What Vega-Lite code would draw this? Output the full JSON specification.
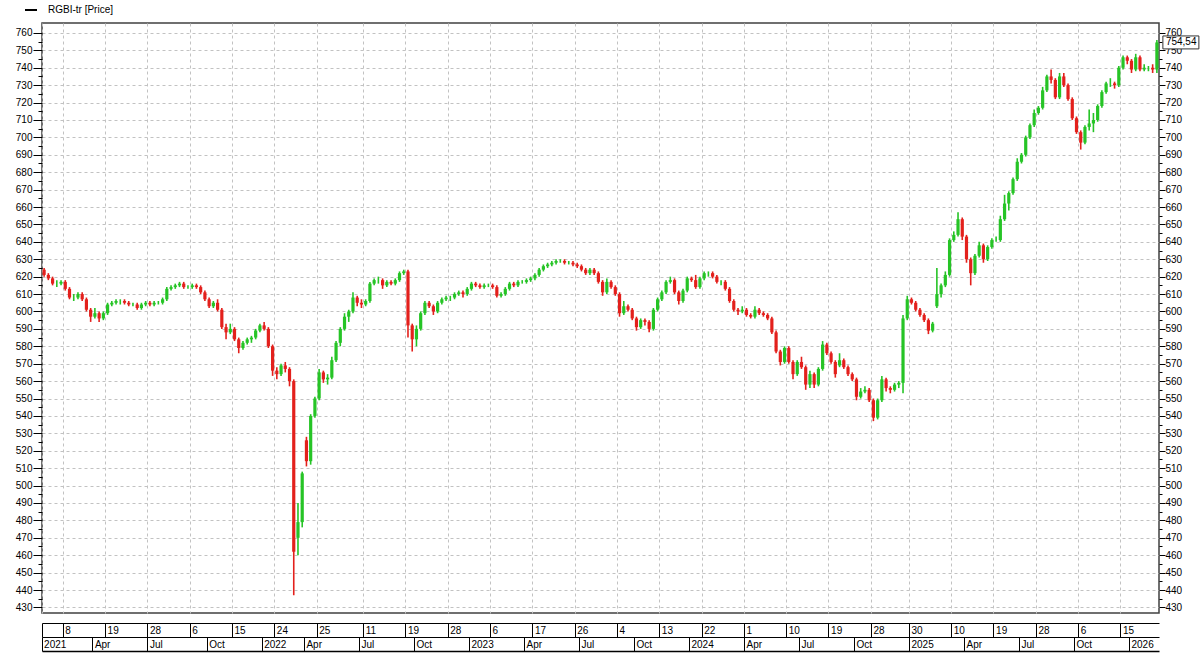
{
"$schema": "https://vega.github.io/schema/vega-lite/v6.json",
"width": 1117, "height": 590,
"autosize": {"type": "none"},
"padding": {"left": 42, "top": 23, "right": 41, "bottom": 45},
"background": "white",
"config": {
 "locale": {"number": {"decimal": ",", "thousands": " ", "grouping": [3], "currency": ["", ""]}},
 "view": {"stroke": "#404040", "strokeWidth": 1.5},
 "axis": {"labelFont": "Liberation Sans", "labelFontSize": 10, "labelColor": "#000", "tickColor": "#000", "domainColor": "#000", "title": null},
 "legend": {"labelFont": "Liberation Sans"}
},
"datasets": {"p": [
{"d":"2021-01-04","o":624,"h":625,"l":620,"c":621},
{"d":"2021-01-11","o":621,"h":622,"l":618,"c":619},
{"d":"2021-01-18","o":619,"h":620,"l":615,"c":616},
{"d":"2021-01-25","o":616,"h":618,"l":614,"c":616},
{"d":"2021-02-01","o":616,"h":618,"l":615,"c":617},
{"d":"2021-02-08","o":617,"h":618,"l":612,"c":613},
{"d":"2021-02-15","o":613,"h":614,"l":607,"c":608},
{"d":"2021-02-22","o":608,"h":610,"l":606,"c":608},
{"d":"2021-03-01","o":608,"h":611,"l":607,"c":610},
{"d":"2021-03-08","o":610,"h":611,"l":606,"c":607},
{"d":"2021-03-15","o":607,"h":608,"l":600,"c":601},
{"d":"2021-03-22","o":601,"h":602,"l":594,"c":597},
{"d":"2021-03-29","o":597,"h":602,"l":596,"c":599},
{"d":"2021-04-05","o":599,"h":600,"l":594,"c":596},
{"d":"2021-04-12","o":596,"h":600,"l":595,"c":599},
{"d":"2021-04-19","o":599,"h":605,"l":598,"c":604},
{"d":"2021-04-26","o":604,"h":606,"l":603,"c":605},
{"d":"2021-05-03","o":605,"h":607,"l":604,"c":606},
{"d":"2021-05-10","o":606,"h":607,"l":604,"c":606},
{"d":"2021-05-17","o":606,"h":607,"l":604,"c":605},
{"d":"2021-05-24","o":605,"h":606,"l":603,"c":604},
{"d":"2021-05-31","o":604,"h":605,"l":603,"c":604},
{"d":"2021-06-07","o":604,"h":605,"l":601,"c":602},
{"d":"2021-06-14","o":602,"h":605,"l":601,"c":604},
{"d":"2021-06-21","o":604,"h":606,"l":603,"c":605},
{"d":"2021-06-28","o":605,"h":606,"l":603,"c":604},
{"d":"2021-07-05","o":604,"h":606,"l":603,"c":605},
{"d":"2021-07-12","o":605,"h":606,"l":604,"c":605},
{"d":"2021-07-19","o":605,"h":608,"l":604,"c":607},
{"d":"2021-07-26","o":607,"h":614,"l":606,"c":613},
{"d":"2021-08-02","o":613,"h":615,"l":612,"c":614},
{"d":"2021-08-09","o":614,"h":616,"l":613,"c":615},
{"d":"2021-08-16","o":615,"h":617,"l":614,"c":616},
{"d":"2021-08-23","o":616,"h":617,"l":613,"c":614},
{"d":"2021-08-30","o":614,"h":615,"l":613,"c":614},
{"d":"2021-09-06","o":614,"h":616,"l":613,"c":615},
{"d":"2021-09-13","o":615,"h":616,"l":613,"c":614},
{"d":"2021-09-20","o":614,"h":615,"l":610,"c":611},
{"d":"2021-09-27","o":611,"h":612,"l":606,"c":607},
{"d":"2021-10-04","o":607,"h":608,"l":602,"c":603},
{"d":"2021-10-11","o":603,"h":606,"l":602,"c":605},
{"d":"2021-10-18","o":605,"h":607,"l":600,"c":601},
{"d":"2021-10-25","o":601,"h":602,"l":590,"c":591},
{"d":"2021-11-01","o":591,"h":593,"l":584,"c":588},
{"d":"2021-11-08","o":588,"h":593,"l":587,"c":590},
{"d":"2021-11-15","o":590,"h":591,"l":583,"c":584},
{"d":"2021-11-22","o":584,"h":585,"l":576,"c":579},
{"d":"2021-11-29","o":579,"h":583,"l":578,"c":582},
{"d":"2021-12-06","o":582,"h":585,"l":581,"c":584},
{"d":"2021-12-13","o":584,"h":586,"l":582,"c":585},
{"d":"2021-12-20","o":585,"h":590,"l":584,"c":589},
{"d":"2021-12-27","o":589,"h":593,"l":588,"c":592},
{"d":"2022-01-03","o":592,"h":594,"l":589,"c":590},
{"d":"2022-01-10","o":590,"h":591,"l":579,"c":580},
{"d":"2022-01-17","o":580,"h":581,"l":563,"c":566},
{"d":"2022-01-24","o":566,"h":568,"l":561,"c":564},
{"d":"2022-01-31","o":564,"h":570,"l":563,"c":569},
{"d":"2022-02-07","o":569,"h":571,"l":565,"c":567},
{"d":"2022-02-14","o":567,"h":568,"l":557,"c":560},
{"d":"2022-02-21","o":560,"h":561,"l":437,"c":462},
{"d":"2022-03-21","o":470,"h":490,"l":460,"c":479},
{"d":"2022-03-28","o":479,"h":508,"l":476,"c":507},
{"d":"2022-04-04","o":526,"h":528,"l":511,"c":514},
{"d":"2022-04-11","o":514,"h":541,"l":512,"c":540},
{"d":"2022-04-18","o":540,"h":551,"l":539,"c":550},
{"d":"2022-04-25","o":550,"h":567,"l":549,"c":565},
{"d":"2022-05-02","o":565,"h":566,"l":559,"c":561},
{"d":"2022-05-09","o":561,"h":564,"l":558,"c":562},
{"d":"2022-05-16","o":562,"h":574,"l":561,"c":572},
{"d":"2022-05-23","o":572,"h":583,"l":571,"c":582},
{"d":"2022-05-30","o":582,"h":591,"l":580,"c":590},
{"d":"2022-06-06","o":590,"h":599,"l":589,"c":597},
{"d":"2022-06-13","o":597,"h":601,"l":594,"c":600},
{"d":"2022-06-20","o":600,"h":611,"l":599,"c":608},
{"d":"2022-06-27","o":608,"h":609,"l":603,"c":605},
{"d":"2022-07-04","o":605,"h":607,"l":602,"c":604},
{"d":"2022-07-11","o":604,"h":607,"l":603,"c":606},
{"d":"2022-07-18","o":606,"h":617,"l":605,"c":616},
{"d":"2022-07-25","o":616,"h":619,"l":615,"c":618},
{"d":"2022-08-01","o":618,"h":620,"l":616,"c":618},
{"d":"2022-08-08","o":618,"h":619,"l":613,"c":615},
{"d":"2022-08-15","o":615,"h":618,"l":614,"c":617},
{"d":"2022-08-22","o":617,"h":618,"l":615,"c":616},
{"d":"2022-08-29","o":616,"h":619,"l":615,"c":618},
{"d":"2022-09-05","o":618,"h":623,"l":617,"c":622},
{"d":"2022-09-12","o":622,"h":624,"l":621,"c":623},
{"d":"2022-09-19","o":623,"h":624,"l":585,"c":592},
{"d":"2022-09-26","o":592,"h":593,"l":577,"c":584},
{"d":"2022-10-03","o":584,"h":592,"l":580,"c":590},
{"d":"2022-10-10","o":590,"h":600,"l":589,"c":599},
{"d":"2022-10-17","o":599,"h":606,"l":598,"c":605},
{"d":"2022-10-24","o":605,"h":606,"l":602,"c":603},
{"d":"2022-10-31","o":603,"h":604,"l":598,"c":600},
{"d":"2022-11-07","o":600,"h":606,"l":599,"c":605},
{"d":"2022-11-14","o":605,"h":608,"l":604,"c":607},
{"d":"2022-11-21","o":607,"h":609,"l":606,"c":608},
{"d":"2022-11-28","o":608,"h":609,"l":606,"c":608},
{"d":"2022-12-05","o":608,"h":611,"l":607,"c":610},
{"d":"2022-12-12","o":610,"h":612,"l":609,"c":611},
{"d":"2022-12-19","o":611,"h":612,"l":608,"c":610},
{"d":"2022-12-26","o":610,"h":614,"l":609,"c":613},
{"d":"2023-01-02","o":613,"h":617,"l":612,"c":616},
{"d":"2023-01-09","o":616,"h":617,"l":614,"c":615},
{"d":"2023-01-16","o":615,"h":616,"l":613,"c":614},
{"d":"2023-01-23","o":614,"h":616,"l":613,"c":615},
{"d":"2023-01-30","o":615,"h":616,"l":614,"c":615},
{"d":"2023-02-06","o":615,"h":616,"l":613,"c":614},
{"d":"2023-02-13","o":614,"h":615,"l":608,"c":609},
{"d":"2023-02-20","o":609,"h":611,"l":608,"c":610},
{"d":"2023-02-27","o":610,"h":614,"l":609,"c":613},
{"d":"2023-03-06","o":613,"h":617,"l":612,"c":616},
{"d":"2023-03-13","o":616,"h":617,"l":614,"c":615},
{"d":"2023-03-20","o":615,"h":618,"l":614,"c":617},
{"d":"2023-03-27","o":617,"h":618,"l":616,"c":617},
{"d":"2023-04-03","o":617,"h":619,"l":616,"c":618},
{"d":"2023-04-10","o":618,"h":620,"l":617,"c":619},
{"d":"2023-04-17","o":619,"h":622,"l":618,"c":621},
{"d":"2023-04-24","o":621,"h":625,"l":620,"c":624},
{"d":"2023-05-01","o":624,"h":627,"l":623,"c":626},
{"d":"2023-05-08","o":626,"h":628,"l":625,"c":627},
{"d":"2023-05-15","o":627,"h":629,"l":626,"c":628},
{"d":"2023-05-22","o":628,"h":630,"l":627,"c":629},
{"d":"2023-05-29","o":629,"h":630,"l":628,"c":629},
{"d":"2023-06-05","o":629,"h":630,"l":627,"c":628},
{"d":"2023-06-12","o":628,"h":629,"l":627,"c":628},
{"d":"2023-06-19","o":628,"h":629,"l":626,"c":627},
{"d":"2023-06-26","o":627,"h":628,"l":625,"c":626},
{"d":"2023-07-03","o":626,"h":627,"l":623,"c":624},
{"d":"2023-07-10","o":624,"h":625,"l":621,"c":622},
{"d":"2023-07-17","o":622,"h":625,"l":621,"c":624},
{"d":"2023-07-24","o":624,"h":625,"l":621,"c":622},
{"d":"2023-07-31","o":622,"h":623,"l":616,"c":617},
{"d":"2023-08-07","o":617,"h":618,"l":609,"c":611},
{"d":"2023-08-14","o":611,"h":619,"l":610,"c":617},
{"d":"2023-08-21","o":617,"h":618,"l":613,"c":614},
{"d":"2023-08-28","o":614,"h":615,"l":609,"c":610},
{"d":"2023-09-04","o":610,"h":611,"l":597,"c":599},
{"d":"2023-09-11","o":599,"h":606,"l":598,"c":603},
{"d":"2023-09-18","o":603,"h":604,"l":600,"c":601},
{"d":"2023-09-25","o":601,"h":602,"l":595,"c":596},
{"d":"2023-10-02","o":596,"h":597,"l":589,"c":591},
{"d":"2023-10-09","o":591,"h":596,"l":590,"c":595},
{"d":"2023-10-16","o":595,"h":596,"l":592,"c":594},
{"d":"2023-10-23","o":594,"h":595,"l":588,"c":590},
{"d":"2023-10-30","o":590,"h":602,"l":589,"c":601},
{"d":"2023-11-06","o":601,"h":608,"l":600,"c":607},
{"d":"2023-11-13","o":607,"h":612,"l":606,"c":611},
{"d":"2023-11-20","o":611,"h":618,"l":610,"c":617},
{"d":"2023-11-27","o":617,"h":620,"l":616,"c":618},
{"d":"2023-12-04","o":618,"h":619,"l":610,"c":611},
{"d":"2023-12-11","o":611,"h":612,"l":604,"c":606},
{"d":"2023-12-18","o":606,"h":613,"l":605,"c":612},
{"d":"2023-12-25","o":612,"h":620,"l":611,"c":619},
{"d":"2024-01-01","o":619,"h":620,"l":617,"c":618},
{"d":"2024-01-08","o":618,"h":621,"l":613,"c":614},
{"d":"2024-01-15","o":614,"h":620,"l":613,"c":619},
{"d":"2024-01-22","o":619,"h":623,"l":618,"c":622},
{"d":"2024-01-29","o":622,"h":623,"l":620,"c":622},
{"d":"2024-02-05","o":622,"h":623,"l":619,"c":620},
{"d":"2024-02-12","o":620,"h":621,"l":616,"c":617},
{"d":"2024-02-19","o":617,"h":618,"l":615,"c":617},
{"d":"2024-02-26","o":617,"h":618,"l":612,"c":613},
{"d":"2024-03-04","o":613,"h":614,"l":605,"c":606},
{"d":"2024-03-11","o":606,"h":607,"l":600,"c":601},
{"d":"2024-03-18","o":601,"h":602,"l":598,"c":600},
{"d":"2024-03-25","o":600,"h":603,"l":599,"c":601},
{"d":"2024-04-01","o":601,"h":602,"l":597,"c":598},
{"d":"2024-04-08","o":598,"h":599,"l":596,"c":597},
{"d":"2024-04-15","o":597,"h":603,"l":596,"c":601},
{"d":"2024-04-22","o":601,"h":602,"l":598,"c":599},
{"d":"2024-04-29","o":599,"h":600,"l":597,"c":598},
{"d":"2024-05-06","o":598,"h":599,"l":595,"c":596},
{"d":"2024-05-13","o":596,"h":597,"l":587,"c":588},
{"d":"2024-05-20","o":588,"h":589,"l":576,"c":577},
{"d":"2024-05-27","o":577,"h":578,"l":569,"c":571},
{"d":"2024-06-03","o":571,"h":580,"l":570,"c":579},
{"d":"2024-06-10","o":579,"h":580,"l":570,"c":571},
{"d":"2024-06-17","o":571,"h":572,"l":561,"c":564},
{"d":"2024-06-24","o":564,"h":572,"l":563,"c":571},
{"d":"2024-07-01","o":571,"h":574,"l":567,"c":568},
{"d":"2024-07-08","o":568,"h":569,"l":555,"c":558},
{"d":"2024-07-15","o":558,"h":566,"l":556,"c":564},
{"d":"2024-07-22","o":564,"h":565,"l":556,"c":558},
{"d":"2024-07-29","o":558,"h":568,"l":557,"c":567},
{"d":"2024-08-05","o":567,"h":583,"l":566,"c":581},
{"d":"2024-08-12","o":581,"h":582,"l":575,"c":576},
{"d":"2024-08-19","o":576,"h":577,"l":570,"c":571},
{"d":"2024-08-26","o":571,"h":572,"l":562,"c":564},
{"d":"2024-09-02","o":569,"h":576,"l":568,"c":572},
{"d":"2024-09-09","o":572,"h":573,"l":567,"c":568},
{"d":"2024-09-16","o":568,"h":569,"l":563,"c":564},
{"d":"2024-09-23","o":564,"h":565,"l":560,"c":561},
{"d":"2024-09-30","o":561,"h":562,"l":549,"c":551},
{"d":"2024-10-07","o":551,"h":556,"l":550,"c":554},
{"d":"2024-10-14","o":554,"h":557,"l":553,"c":555},
{"d":"2024-10-21","o":555,"h":556,"l":548,"c":549},
{"d":"2024-10-28","o":549,"h":550,"l":537,"c":539},
{"d":"2024-11-04","o":539,"h":550,"l":538,"c":549},
{"d":"2024-11-11","o":549,"h":563,"l":548,"c":561},
{"d":"2024-11-18","o":561,"h":562,"l":554,"c":556},
{"d":"2024-11-25","o":556,"h":557,"l":553,"c":555},
{"d":"2024-12-02","o":555,"h":559,"l":554,"c":558},
{"d":"2024-12-09","o":558,"h":560,"l":556,"c":559},
{"d":"2024-12-16","o":559,"h":598,"l":553,"c":596},
{"d":"2024-12-23","o":596,"h":609,"l":595,"c":607},
{"d":"2024-12-30","o":607,"h":608,"l":604,"c":605},
{"d":"2025-01-06","o":605,"h":606,"l":600,"c":601},
{"d":"2025-01-13","o":601,"h":602,"l":597,"c":598},
{"d":"2025-01-20","o":598,"h":599,"l":594,"c":595},
{"d":"2025-01-27","o":595,"h":596,"l":587,"c":589},
{"d":"2025-02-03","o":589,"h":594,"l":588,"c":593},
{"d":"2025-02-10","o":603,"h":625,"l":602,"c":610},
{"d":"2025-02-17","o":610,"h":616,"l":608,"c":615},
{"d":"2025-02-24","o":615,"h":623,"l":614,"c":621},
{"d":"2025-03-03","o":621,"h":642,"l":620,"c":641},
{"d":"2025-03-10","o":641,"h":646,"l":640,"c":644},
{"d":"2025-03-17","o":644,"h":657,"l":643,"c":653},
{"d":"2025-03-24","o":653,"h":654,"l":641,"c":643},
{"d":"2025-03-31","o":643,"h":644,"l":628,"c":630},
{"d":"2025-04-07","o":630,"h":631,"l":615,"c":622},
{"d":"2025-04-14","o":622,"h":633,"l":621,"c":632},
{"d":"2025-04-21","o":632,"h":640,"l":631,"c":638},
{"d":"2025-04-28","o":638,"h":639,"l":628,"c":630},
{"d":"2025-05-05","o":630,"h":638,"l":629,"c":637},
{"d":"2025-05-12","o":637,"h":642,"l":636,"c":641},
{"d":"2025-05-19","o":641,"h":643,"l":640,"c":641},
{"d":"2025-05-26","o":641,"h":655,"l":640,"c":653},
{"d":"2025-06-02","o":653,"h":667,"l":652,"c":662},
{"d":"2025-06-09","o":662,"h":669,"l":658,"c":668},
{"d":"2025-06-16","o":668,"h":677,"l":667,"c":676},
{"d":"2025-06-23","o":676,"h":688,"l":675,"c":686},
{"d":"2025-06-30","o":686,"h":691,"l":685,"c":690},
{"d":"2025-07-07","o":690,"h":701,"l":689,"c":700},
{"d":"2025-07-14","o":700,"h":708,"l":699,"c":707},
{"d":"2025-07-21","o":707,"h":716,"l":706,"c":714},
{"d":"2025-07-28","o":714,"h":718,"l":713,"c":717},
{"d":"2025-08-04","o":717,"h":729,"l":716,"c":727},
{"d":"2025-08-11","o":727,"h":736,"l":726,"c":735},
{"d":"2025-08-18","o":735,"h":739,"l":731,"c":733},
{"d":"2025-08-25","o":733,"h":734,"l":722,"c":723},
{"d":"2025-09-01","o":723,"h":737,"l":722,"c":735},
{"d":"2025-09-08","o":735,"h":737,"l":729,"c":730},
{"d":"2025-09-15","o":730,"h":731,"l":721,"c":722},
{"d":"2025-09-22","o":722,"h":723,"l":710,"c":711},
{"d":"2025-09-29","o":711,"h":712,"l":702,"c":703},
{"d":"2025-10-06","o":703,"h":704,"l":693,"c":697},
{"d":"2025-10-13","o":697,"h":707,"l":696,"c":706},
{"d":"2025-10-20","o":706,"h":716,"l":704,"c":708},
{"d":"2025-10-27","o":708,"h":714,"l":703,"c":710},
{"d":"2025-11-03","o":710,"h":719,"l":709,"c":718},
{"d":"2025-11-10","o":718,"h":727,"l":717,"c":726},
{"d":"2025-11-17","o":726,"h":732,"l":725,"c":731},
{"d":"2025-11-24","o":731,"h":734,"l":729,"c":731},
{"d":"2025-12-01","o":731,"h":732,"l":728,"c":730},
{"d":"2025-12-08","o":730,"h":741,"l":729,"c":740},
{"d":"2025-12-15","o":740,"h":747,"l":739,"c":746},
{"d":"2025-12-22","o":746,"h":747,"l":742,"c":744},
{"d":"2025-12-29","o":744,"h":745,"l":737,"c":739},
{"d":"2026-01-05","o":739,"h":748,"l":738,"c":746},
{"d":"2026-01-12","o":746,"h":747,"l":738,"c":739},
{"d":"2026-01-19","o":739,"h":742,"l":738,"c":740},
{"d":"2026-01-26","o":740,"h":741,"l":738,"c":740},
{"d":"2026-02-02","o":740,"h":742,"l":737,"c":739},
{"d":"2026-02-09","o":739,"h":756,"l":737,"c":754.54}
]},
"data": {"name": "p"},
"resolve": {"axis": {"x": "independent", "y": "independent"}},
"layer": [
 {
  "mark": {"type": "rule", "strokeWidth": 1.6},
  "encoding": {
   "x": {"field": "d", "type": "ordinal", "scale": {"type": "band", "paddingInner": 0, "paddingOuter": 0},
    "axis": {"orient": "bottom", "offset": 10, "bandPosition": 0,
     "values": ["2021-01-04","2021-02-08","2021-04-19","2021-06-28","2021-09-06","2021-11-15","2022-01-24","2022-04-25","2022-07-11","2022-09-19","2022-11-28","2023-02-06","2023-04-17","2023-06-26","2023-09-04","2023-11-13","2024-01-22","2024-04-01","2024-06-10","2024-08-19","2024-10-28","2024-12-30","2025-03-10","2025-05-19","2025-07-28","2025-10-06","2025-12-15"],
     "labelExpr": "datum.value == '2021-01-04' ? '' : '' + toNumber(substring(datum.value, 8, 10))",
     "domain": true, "domainWidth": 1, "ticks": true, "tickSize": 14, "tickWidth": 1,
     "labelAlign": "left", "labelBaseline": "middle", "labelPadding": -7, "labelDx": 3, "labelAngle": 0,
     "labelFlush": false, "labelOverlap": false, "labelBound": false,
     "grid": true, "gridDash": [3, 3], "gridColor": "#c2c2c2", "gridWidth": 1}},
   "y": {"field": "l", "type": "quantitative", "scale": {"domain": [426.8, 765.7], "nice": false, "zero": false},
    "axis": {"orient": "left", "values": [430,440,450,460,470,480,490,500,510,520,530,540,550,560,570,580,590,600,610,620,630,640,650,660,670,680,690,700,710,720,730,740,750,760],
     "tickSize": 9, "labelPadding": 1, "domain": false, "grid": true, "gridDash": [3, 3], "gridColor": "#c2c2c2", "gridWidth": 1}},
   "y2": {"field": "h"},
   "color": {"condition": {"test": "datum.c >= datum.o", "value": "#26c426"}, "value": "#e3201c"}
  }
 },
 {
  "mark": {"type": "rule", "strokeWidth": 3.2},
  "encoding": {
   "x": {"field": "d", "type": "ordinal", "scale": {"type": "band", "paddingInner": 0, "paddingOuter": 0},
    "axis": {"orient": "bottom", "offset": 24, "bandPosition": 0,
     "values": ["2021-01-04","2021-03-29","2021-06-28","2021-10-04","2022-01-03","2022-04-04","2022-07-04","2022-10-03","2023-01-02","2023-04-03","2023-07-03","2023-10-02","2024-01-01","2024-04-01","2024-07-01","2024-09-30","2024-12-30","2025-03-31","2025-06-30","2025-09-29","2025-12-29"],
     "labelExpr": "utcmonth(toNumber(toDate(datum.value)) + 259200000) == 0 ? '' + utcyear(toNumber(toDate(datum.value)) + 259200000) : utcFormat(toNumber(toDate(datum.value)) + 259200000, '%b')",
     "domain": true, "domainWidth": 1, "ticks": true, "tickSize": 14, "tickWidth": 1,
     "labelAlign": "left", "labelBaseline": "middle", "labelPadding": -7, "labelDx": 3, "labelAngle": 0,
     "labelFlush": false, "labelOverlap": false, "labelBound": false, "grid": false}},
   "y": {"field": "o", "type": "quantitative", "scale": {"domain": [426.8, 765.7], "nice": false, "zero": false},
    "axis": {"orient": "right", "values": [430,440,450,460,470,480,490,500,510,520,530,540,550,560,570,580,590,600,610,620,630,640,650,660,670,680,690,700,710,720,730,740,750,760],
     "tickSize": 6, "labelPadding": 0, "domain": false, "grid": false}},
   "y2": {"field": "c"},
   "color": {"condition": {"test": "datum.c >= datum.o", "value": "#26c426"}, "value": "#e3201c"}
  }
 },
 {
  "transform": [{"filter": "datum.c < 0"}],
  "mark": {"type": "line", "strokeWidth": 2},
  "encoding": {
   "x": {"field": "d", "type": "ordinal", "scale": {"type": "band", "paddingInner": 0, "paddingOuter": 0},
    "axis": {"orient": "bottom", "offset": 38, "domain": true, "domainWidth": 1.5, "ticks": false, "labels": false, "grid": false, "values": []}},
   "y": {"field": "c", "type": "quantitative", "scale": {"domain": [426.8, 765.7], "nice": false, "zero": false},
    "axis": {"orient": "left", "values": [435,445,455,465,475,485,495,505,515,525,535,545,555,565,575,585,595,605,615,625,635,645,655,665,675,685,695,705,715,725,735,745,755],
     "tickSize": 4, "labels": false, "domain": false, "grid": false}},
   "stroke": {"datum": "RGBI-tr [Price]", "scale": {"range": ["#000000"]},
    "legend": {"orient": "none", "legendX": -18, "legendY": -20, "title": null, "padding": 0,
     "symbolType": "stroke", "symbolSize": 144, "symbolStrokeWidth": 2, "symbolStrokeColor": "#000",
     "labelFontSize": 10, "labelColor": "#000", "labelOffset": 10}}
  }
 },
 {
  "transform": [{"filter": "datum.c < 0"}],
  "mark": {"type": "rule"},
  "encoding": {
   "x": {"field": "d", "type": "ordinal", "scale": {"type": "band", "paddingInner": 0, "paddingOuter": 0}, "axis": null},
   "y": {"field": "c", "type": "quantitative", "scale": {"domain": [426.8, 765.7], "nice": false, "zero": false},
    "axis": {"orient": "right", "values": [435,445,455,465,475,485,495,505,515,525,535,545,555,565,575,585,595,605,615,625,635,645,655,665,675,685,695,705,715,725,735,745,755],
     "tickSize": 3, "labels": false, "domain": false, "grid": false}}
  }
 },
 {
  "transform": [{"filter": "datum.d == '2026-02-09'"}],
  "mark": {"type": "point", "shape": "M-1,-0.36H1V0.36H-1Z", "size": 1296, "filled": true, "fill": "#ffffff", "stroke": "#333333", "strokeWidth": 1, "opacity": 1, "xOffset": 24},
  "encoding": {
   "x": {"field": "d", "type": "ordinal", "scale": {"type": "band", "paddingInner": 0, "paddingOuter": 0}, "axis": null},
   "y": {"field": "c", "type": "quantitative", "scale": {"domain": [426.8, 765.7], "nice": false, "zero": false}, "axis": null}
  }
 },
 {
  "transform": [{"filter": "datum.d == '2026-02-09'"}],
  "mark": {"type": "text", "align": "left", "baseline": "middle", "dx": 9, "font": "Liberation Sans", "fontSize": 10, "color": "#000"},
  "encoding": {
   "x": {"field": "d", "type": "ordinal", "scale": {"type": "band", "paddingInner": 0, "paddingOuter": 0}, "axis": null},
   "y": {"field": "c", "type": "quantitative", "scale": {"domain": [426.8, 765.7], "nice": false, "zero": false}, "axis": null},
   "text": {"field": "c", "type": "quantitative", "format": ".2f"}
  }
 }
]
}
